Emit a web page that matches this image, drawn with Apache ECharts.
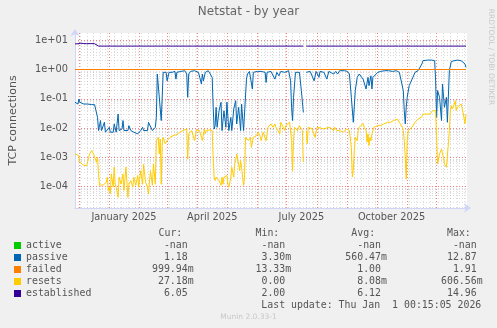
<!DOCTYPE html>
<html><head><meta charset="utf-8">
<script src="https://cdn.jsdelivr.net/npm/echarts@6/dist/echarts.min.js"></script>
<style>html,body{margin:0;padding:0;background:#f0f0f0}#c{width:497px;height:328px}</style>
</head><body><div id="c"></div>
<script>
// ---- data ----
const START = Date.UTC(2024, 10, 27);          // left edge of graph
const END = Date.UTC(2026, 0, 1, 0, 15, 5);    // last update
const DAY = 86400000;
const seriesNames = ['active', 'passive', 'failed', 'resets', 'established'];
// [days since START, TCP connections]
const active = [];
const passive = [[0,0.076],[1,0.070],[2,0.082],[3,0.066],[4,0.098],[5,0.076],[7,0.070],[9,0.066],[11,0.063],[13,0.066],[15,0.058],[17,0.063],[19,0.054],[20,0.063],[22,0.058],[23,0.023],[24,0.0082],[25,0.0093],[26,0.018],[27,0.0082],[28,0.0072],[29,0.0093],[30,0.0157],[31,0.0072],[32,0.0082],[33,0.0063],[35,0.0106],[36,0.0072],[37,0.0082],[39,0.0072],[40,0.0138],[42,0.0072],[43,0.0082],[44,0.030],[45,0.0082],[46,0.0072],[48,0.0093],[49,0.018],[50,0.0082],[51,0.0072],[52,0.0093],[54,0.0082],[55,0.0121],[57,0.0082],[59,0.0093],[60,0.0072],[62,0.0082],[64,0.0063],[65,0.0072],[67,0.0082],[69,0.0106],[70,0.0082],[72,0.0093],[74,0.0082],[75,0.0157],[77,0.0138],[79,0.0082],[80,0.0072],[82,0.0106],[83,0.023],[84,0.70],[85,0.80],[86,0.70],[88,0.018],[90,0.80],[91,0.91],[93,0.80],[94,0.41],[96,0.80],[97,0.91],[99,0.80],[100,0.86],[102,0.86],[103,0.47],[104,0.80],[106,0.91],[108,0.86],[110,0.80],[112,0.91],[114,0.70],[115,0.112],[116,0.70],[118,0.86],[120,0.80],[122,0.91],[124,0.86],[126,0.80],[128,0.86],[129,0.32],[130,0.70],[131,0.41],[133,0.80],[134,0.86],[136,0.91],[138,0.86],[140,0.54],[141,0.051],[142,0.0093],[143,0.0121],[144,0.051],[145,0.0106],[147,0.039],[149,0.076],[150,0.0082],[152,0.039],[154,0.0106],[155,0.076],[157,0.0082],[159,0.023],[160,0.0082],[162,0.045],[164,0.086],[165,0.0138],[167,0.051],[169,0.0082],[170,0.066],[172,0.0082],[174,0.0086],[175,0.47],[176,0.70],[178,0.86],[180,0.91],[181,0.215],[182,0.80],[184,0.91],[186,0.86],[188,0.91],[190,0.86],[192,0.91],[194,0.80],[195,0.36],[196,0.80],[198,0.91],[200,0.86],[202,0.80],[204,0.47],[206,0.80],[208,0.61],[210,0.86],[212,0.91],[214,0.80],[216,0.86],[218,0.91],[220,0.41],[221,0.051],[222,0.018],[223,0.112],[225,0.80],[227,0.86],[229,0.80],[231,0.19],[233,0.034],[235,null],[236,0.80],[238,0.91],[240,0.86],[242,0.80],[244,0.41],[246,0.86],[249,0.54],[250,0.86],[252,0.91],[254,0.80],[257,0.47],[259,0.86],[261,0.91],[264,0.70],[266,0.86],[268,0.70],[270,0.91],[272,0.86],[275,0.91],[278,0.86],[280,0.70],[282,0.112],[284,0.0157],[286,0.19],[288,0.54],[290,0.70],[292,0.80],[294,0.47],[296,0.41],[297,0.215],[299,0.54],[300,0.28],[302,0.61],[303,0.215],[304,0.54],[306,0.61],[309,0.80],[312,0.86],[316,0.91],[320,0.91],[324,0.86],[328,0.91],[331,0.80],[333,0.70],[335,0.19],[336,0.039],[337,0.0138],[338,0.051],[339,0.112],[341,0.28],[344,0.47],[347,0.80],[350,0.91],[352,1.04],[354,1.54],[355,2.0],[357,2.1],[360,2.1],[364,2.1],[367,2.0],[368,0.41],[369,0.023],[370,0.19],[372,0.112],[374,0.018],[375,0.32],[377,0.051],[379,0.112],[380,0.0157],[382,0.91],[384,1.89],[386,2.1],[390,2.1],[394,2.0],[396,1.89],[398,1.54],[399,1.18]];
const failed = [[0,1.0],[100,1.0],[200,1.0],[300,1.0],[399,1.0]];
const resets = [[0,0.0013],[2,0.0015],[4,0.00114],[5,0.00068],[7,0.00059],[9,0.00052],[10,0.00059],[12,0.00052],[14,0.0010],[15,0.0013],[17,0.0017],[19,0.0013],[20,0.0010],[22,0.00068],[23,0.0010],[24,0.00027],[25,0.00011],[26,0.00011],[29,0.000115],[30,0.00012],[32,0.00014],[33,0.00021],[34,0.000073],[35,0.000095],[36,0.000056],[37,0.00027],[39,0.000095],[40,0.00046],[41,0.00012],[42,0.000095],[44,0.000043],[45,0.00021],[47,0.00012],[49,0.00027],[50,0.000073],[52,0.00046],[54,0.000043],[55,0.00012],[57,0.00016],[59,0.000095],[60,0.00021],[62,0.00011],[64,0.00024],[65,0.000095],[67,0.00035],[69,0.00012],[70,0.00059],[72,0.00014],[74,0.000095],[75,0.000056],[77,0.00035],[79,0.00011],[80,0.00059],[82,0.00012],[83,0.0037],[84,0.0033],[85,0.0048],[86,0.0013],[87,0.0042],[88,0.00012],[89,0.0029],[90,0.0048],[92,0.0029],[94,0.0037],[95,0.0042],[97,0.0048],[99,0.0055],[100,0.0055],[102,0.0048],[104,0.0060],[105,0.0055],[107,0.0072],[109,0.0063],[110,0.0082],[112,0.0082],[114,0.0093],[115,0.00088],[116,0.0063],[118,0.0072],[119,0.0082],[120,0.0082],[122,0.0037],[124,0.0086],[125,0.0093],[127,0.0082],[129,0.0082],[130,0.0037],[131,0.0033],[132,0.0093],[133,0.0063],[134,0.0082],[135,0.0093],[137,0.0086],[139,0.0098],[140,0.0082],[141,0.0010],[142,0.00021],[143,0.00016],[144,0.00021],[145,0.00018],[147,0.00016],[149,0.00011],[150,0.00021],[151,0.00012],[152,0.00021],[154,0.00018],[155,0.00024],[156,0.00012],[157,0.000095],[159,0.00021],[160,0.00046],[162,0.00021],[163,0.00059],[164,0.00077],[165,0.0013],[167,0.00059],[168,0.00035],[169,0.00077],[170,0.00046],[172,0.00011],[173,0.00021],[174,0.0048],[175,0.0051],[177,0.0037],[179,0.0048],[180,0.0022],[182,0.0048],[184,0.0055],[185,0.0055],[187,0.0072],[189,0.0051],[190,0.0037],[192,0.0072],[194,0.0063],[195,0.0037],[197,0.0106],[199,0.0121],[200,0.0138],[202,0.0106],[204,0.0138],[205,0.0106],[207,0.0082],[209,0.0063],[210,0.0157],[212,0.0138],[214,0.0082],[215,0.0121],[217,0.0138],[219,0.0157],[220,0.0138],[221,0.0037],[222,0.00035],[223,0.0037],[224,0.0106],[225,0.0121],[227,0.0082],[229,0.0121],[230,0.0106],[232,0.0082],[233,0.00068],[235,null],[236,0.0082],[237,0.0029],[238,0.0106],[240,0.0106],[242,0.0093],[244,0.0106],[245,0.0048],[247,0.0106],[249,0.0112],[250,0.0101],[252,0.0106],[254,0.0093],[255,0.0106],[257,0.0101],[259,0.0093],[260,0.0106],[262,0.0101],[264,0.0082],[265,0.0106],[267,0.0082],[269,0.0093],[270,0.0082],[272,0.0082],[274,0.0072],[275,0.0082],[277,0.0093],[279,0.0082],[280,0.0082],[282,0.0022],[283,0.00021],[284,0.00035],[285,0.0017],[286,0.0048],[288,0.0037],[289,0.0082],[290,0.0106],[292,0.0121],[294,0.0145],[295,0.0106],[296,0.0106],[297,0.0082],[298,0.0033],[299,0.0063],[300,0.0025],[301,0.0048],[302,0.0037],[303,0.0063],[304,0.0082],[305,0.0106],[307,0.0093],[309,0.0121],[310,0.0106],[312,0.0121],[314,0.0138],[315,0.0138],[317,0.0157],[319,0.0157],[320,0.018],[322,0.0157],[324,0.018],[325,0.018],[327,0.0188],[329,0.020],[330,0.022],[331,0.0157],[333,0.0138],[334,0.0106],[335,0.0082],[336,0.0037],[337,0.0010],[338,0.00018],[339,0.0037],[340,0.0082],[342,0.0082],[344,0.0106],[345,0.0121],[347,0.0157],[349,0.018],[350,0.020],[352,0.022],[354,0.0245],[355,0.030],[357,0.0265],[359,0.030],[360,0.034],[362,0.030],[364,0.034],[365,0.039],[367,0.036],[368,0.039],[369,0.0048],[370,0.00059],[371,0.00059],[372,0.0013],[374,0.0019],[375,0.0013],[376,0.0010],[377,0.00059],[379,0.00046],[380,0.00052],[381,0.0029],[382,0.0082],[383,0.039],[384,0.058],[385,0.045],[387,0.066],[388,0.086],[389,0.039],[390,0.051],[392,0.045],[394,0.066],[395,0.058],[396,0.034],[398,0.0138],[399,0.030]];
const established = [[0,7.5],[3,7.6],[6,7.9],[9,7.7],[12,7.6],[16,7.7],[20,7.6],[22,7.3],[24,6.3],[120,6.3],[233,6.3],[235,null],[236,6.3],[330,6.3],[399,6.3]];
const yTickExponents = [-4, -3, -2, -1, 0, 1];
const monthLabels = ['January 2025', 'April 2025', 'July 2025', 'October 2025'];
const monthLabelDates = ['2025-01-16', '2025-04-16', '2025-07-16', '2025-10-16'];
const colHeaders = ['Cur:', 'Min:', 'Avg:', 'Max:'];
const curValues = ['-nan', '1.18', '999.94m', '27.18m', '6.05'];
const minValues = ['-nan', '3.30m', '13.33m', '0.00', '2.00'];
const avgValues = ['-nan', '560.47m', '1.00', '8.08m', '6.12'];
const maxValues = ['-nan', '12.87', '1.91', '606.56m', '14.96'];
const lastUpdate = 'Last update: Thu Jan  1 00:15:05 2026';

// ---- styles ----
const colors = ['#00CC00', '#0066B3', '#FF8000', '#FFCC00', '#330099'];
const FG = '#555';
const MONO = '"DejaVu Sans Mono", monospace';
const SANS = '"DejaVu Sans", sans-serif';
const LOGMIN = -4.7327, LOGMAX = 1.2473;

function toSeriesData(arr) {
  return arr.map(([d, v]) => [START + d * DAY, v == null ? '-' : Math.log10(v)]);
}
const seriesData = [active, passive, failed, resets, established];

// grid lines (positions from values, drawn through axes)
const majorY = yTickExponents.map(e => ({ yAxis: e }));
const minorY = [];
for (let e = -5; e <= 1; e++) for (let k = 2; k <= 9; k++) {
  const lv = e + Math.log10(k);
  if (lv > LOGMIN && lv < LOGMAX) minorY.push({ yAxis: lv });
}
const majorX = [], minorX = [];
for (let m = 11; m <= 23; m++) {
  const t = Date.UTC(2024, m, 1);
  if (t > START && t < END) majorX.push({ xAxis: t });
}
for (let t = Date.UTC(2024, 11, 2); t < END; t += 7 * DAY) {
  const dt = new Date(t);
  if (dt.getUTCDate() !== 1) minorX.push({ xAxis: t });
}

function gridSeries(name, data, color, op) {
  return {
    name, type: 'line', data: [], z: 0, silent: true, color: color,
    markLine: { z: 0, silent: true, symbol: 'none', animation: false,
      label: { show: false }, emphasis: { disabled: true },
      lineStyle: { color: color, opacity: op, width: 1, type: [1, 2] }, data }
  };
}

const chart = echarts.init(document.getElementById('c'), null, { renderer: 'canvas' });
const option = {
  animation: false,
  backgroundColor: '#f0f0f0',
  title: { text: 'Netstat - by year', left: 'center', top: 6, padding: 0,
    textStyle: { fontFamily: SANS, fontSize: 12, fontWeight: 'normal', color: '#666' } },
  grid: { left: 67, right: 30, top: 33, bottom: 120, show: true, backgroundColor: '#fff', borderWidth: 0 },
  legend: { orient: 'vertical', left: 14, top: 239.5, itemWidth: 7, itemHeight: 7, itemGap: 0, icon: 'rect',
    selectedMode: false, padding: 0, data: seriesNames,
    textStyle: { fontFamily: MONO, fontSize: 9.9, lineHeight: 12, color: FG } },
  xAxis: { type: 'time', min: START, max: END,
    axisLine: { show: true, onZero: false, lineStyle: { color: '#CFD6F8', width: 1 }, symbol: ['none', 'arrow'], symbolSize: [7, 7], symbolOffset: [0, 4] },
    axisTick: { show: false }, axisLabel: { show: false }, splitLine: { show: false } },
  yAxis: { type: 'value', min: LOGMIN, max: LOGMAX,
    name: 'TCP connections', nameLocation: 'middle', nameRotate: 90, nameGap: 56,
    nameTextStyle: { fontFamily: SANS, fontSize: 11, color: FG },
    axisLine: { show: true, onZero: false, lineStyle: { color: '#CFD6F8', width: 1 }, symbol: ['none', 'arrow'], symbolSize: [7, 7], symbolOffset: [0, 4] },
    axisTick: { show: false }, splitLine: { show: false },
    axisLabel: { margin: 7, fontFamily: SANS, fontSize: 9.8, color: FG,
      formatter: v => {
        const r = Math.round(v);
        if (Math.abs(v - r) > 1e-6) return '';
        return '1e' + (r < 0 ? '-' : '+') + String(Math.abs(r)).padStart(2, '0');
      } } },
  series: [
    gridSeries('gminY', minorY, '#b0b0b0', 0.45),
    gridSeries('gminX', minorX, '#b0b0b0', 0.45),
    gridSeries('gmajY', majorY, '#ee3030', 0.6),
    gridSeries('gmajX', majorX, '#ee3030', 0.6),
    ...seriesNames.map((n, i) => ({
      name: n, type: 'line', z: 10 + i, showSymbol: false, symbol: 'none',
      color: colors[i], itemStyle: { color: colors[i] }, lineStyle: { width: 1, color: colors[i], opacity: 1 },
      connectNulls: false, emphasis: { disabled: true },
      data: toSeriesData(seriesData[i])
    }))
  ]
};
chart.setOption(option);

// ---- text placed through the axes / fixed legend table ----
const g = [];
monthLabels.forEach((txt, i) => {
  const p = chart.convertToPixel({ xAxisIndex: 0 }, Date.parse(monthLabelDates[i] + 'T00:00:00Z'));
  g.push({ type: 'text', x: p, y: 217, style: { text: txt, font: '9.8px ' + SANS, fill: FG, align: 'center', verticalAlign: 'middle' } });
});
const cols = [
  { x: 152, w: 7, vals: curValues, hx: 158.5 },
  { x: 255.5, w: 6, vals: minValues, hx: 255.5 },
  { x: 345.3, w: 7, vals: avgValues, hx: 351.3 },
  { x: 441, w: 7, vals: maxValues, hx: 447 }
];
const rowY0 = 233.5, rowStep = 12;
cols.forEach((c, ci) => {
  g.push({ type: 'text', x: c.hx, y: rowY0, style: { text: colHeaders[ci], font: '9.9px ' + MONO, fill: FG, align: 'left', verticalAlign: 'middle' } });
  c.vals.forEach((v, ri) => {
    const s = (v.endsWith('m') ? v : v + ' ').padStart(c.w, ' ');
    g.push({ type: 'text', x: c.x, y: rowY0 + rowStep * (ri + 1), style: { text: s, font: '9.9px ' + MONO, fill: FG, align: 'left', verticalAlign: 'middle' } });
  });
});
g.push({ type: 'text', x: 261.3, y: rowY0 + rowStep * 6, style: { text: lastUpdate, font: '9.9px ' + MONO, fill: FG, align: 'left', verticalAlign: 'middle' } });
g.push({ type: 'text', x: 248.5, y: 317, style: { text: 'Munin 2.0.33-1', font: '7.5px ' + SANS, fill: '#c8c8c8', align: 'center', verticalAlign: 'middle' } });
g.push({ type: 'text', x: 491, y: 57, rotation: -Math.PI / 2, style: { text: 'RRDTOOL / TOBI OETIKER', font: '7.5px ' + SANS, fill: '#c8c8c8', align: 'center', verticalAlign: 'middle' } });
chart.setOption({ graphic: g });
</script>
</body></html>
